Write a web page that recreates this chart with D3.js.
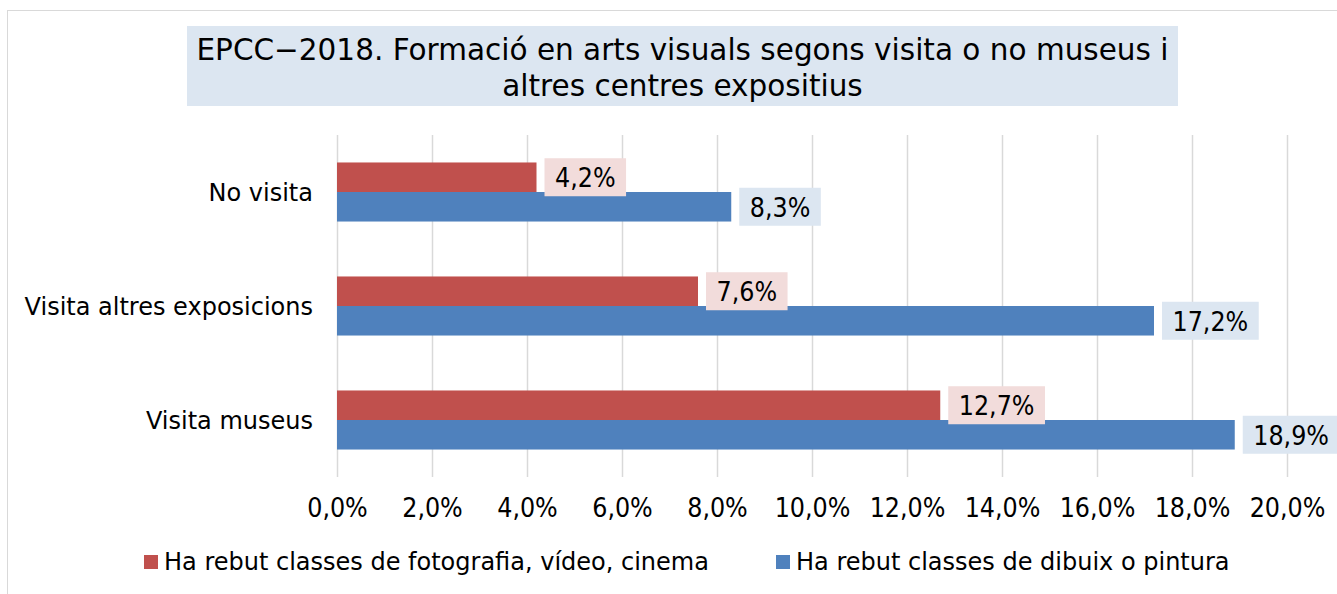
<!DOCTYPE html>
<html>
<head>
<meta charset="utf-8">
<script src="https://cdn.jsdelivr.net/npm/d3@7"></script>
<style>
  body { margin: 0; background: #fff; }
  text { font-family: "DejaVu Sans", Verdana, sans-serif; fill: #000; }
  .num { font-family: "DejaVu Sans Condensed", "DejaVu Sans", sans-serif; font-stretch: condensed; }
</style>
</head>
<body>
<script>
// chart data
var titleLines = ["EPCC\u22122018. Formació en arts visuals segons visita o no museus i", "altres centres expositius"];
var categories = ["No visita", "Visita altres exposicions", "Visita museus"];
var seriesNames = ["Ha rebut classes de fotografia, vídeo, cinema", "Ha rebut classes de dibuix o pintura"];
var fotoValues = [0.042, 0.076, 0.127];   // red
var dibuixValues = [0.083, 0.172, 0.189]; // blue
var tickValues = [0, 0.02, 0.04, 0.06, 0.08, 0.10, 0.12, 0.14, 0.16, 0.18, 0.20];

var barColors = ["#c0504d", "#4f81bd"];
var labelFills = ["#f2dcdb", "#dce6f1"];

var W = 1337, H = 594;
var numSize = 26.5;
var svg = d3.select("body").append("svg").attr("width", W).attr("height", H);

// outer chart border (runs off the right/bottom edge like the original)
svg.append("rect")
  .attr("x", 7.5).attr("y", 10.5)
  .attr("width", W + 20).attr("height", H + 20)
  .attr("fill", "#fff").attr("stroke", "#d9d9d9").attr("stroke-width", 1);

// title
svg.append("rect")
  .attr("x", 187).attr("y", 26).attr("width", 991).attr("height", 80)
  .attr("fill", "#dce6f1");
svg.selectAll("text.title").data(titleLines).enter().append("text")
  .attr("class", "title")
  .attr("x", 682.5)
  .attr("y", function(d, i) { return 60 + i * 35.5; })
  .attr("text-anchor", "middle")
  .style("font-size", "29.5px")
  .text(function(d) { return d; });

// scales
var x = d3.scaleLinear().domain([0, 0.2]).range([337, 1287]);
var y = d3.scaleBand().domain(categories).range([135, 477]).paddingInner(0.482).paddingOuter(0.241);
var ySub = d3.scaleBand().domain([0, 1]).range([0, y.bandwidth()]);

var loc = d3.formatLocale({decimal: ",", thousands: ".", grouping: [3], currency: ["", "€"]});
var pct = loc.format(".1%");

// gridlines
svg.append("g")
  .attr("transform", "translate(0,477)")
  .call(d3.axisBottom(x).tickValues(tickValues).tickSize(-342).tickFormat(""))
  .call(function(g) {
    g.select(".domain").remove();
    g.selectAll("line").attr("stroke", "#d9d9d9").attr("stroke-width", 1.5);
  });

// x tick labels
svg.append("g")
  .attr("transform", "translate(0,477)")
  .call(d3.axisBottom(x).tickValues(tickValues).tickSize(0).tickPadding(0).tickFormat(pct))
  .call(function(g) {
    g.select(".domain").remove();
    g.selectAll("text")
      .attr("class", "num")
      .attr("dy", null)
      .attr("y", 40)
      .style("font-size", numSize + "px")
      .attr("fill", "#000");
  });

// category labels
svg.selectAll("text.cat").data(categories).enter().append("text")
  .attr("class", "cat")
  .attr("x", 313)
  .attr("y", function(d) { return y(d) + y.bandwidth() / 2 + 8.5; })
  .attr("text-anchor", "end")
  .style("font-size", "24px")
  .text(function(d) { return d; });

// bars
var rows = [];
categories.forEach(function(c, i) {
  rows.push({cat: c, s: 0, v: fotoValues[i]});
  rows.push({cat: c, s: 1, v: dibuixValues[i]});
});

svg.selectAll("rect.bar").data(rows).enter().append("rect")
  .attr("class", "bar")
  .attr("x", x(0))
  .attr("y", function(d) { return y(d.cat) + ySub(d.s); })
  .attr("width", function(d) { return x(d.v) - x(0); })
  .attr("height", ySub.bandwidth())
  .attr("fill", function(d) { return barColors[d.s]; });

// data labels with filled boxes
var lab = svg.selectAll("g.lab").data(rows).enter().append("g").attr("class", "lab");
lab.append("rect").attr("fill", function(d) { return labelFills[d.s]; });
lab.append("text")
  .attr("class", "num")
  .attr("text-anchor", "middle")
  .style("font-size", numSize + "px")
  .text(function(d) { return pct(d.v); });
lab.each(function(d) {
  var g = d3.select(this);
  var tw = g.select("text").node().getComputedTextLength();
  var bw = tw + 21, bh = 38;
  var bx = x(d.v) + 8;
  var cy = y(d.cat) + ySub(d.s) + ySub.bandwidth() / 2;
  g.select("rect").attr("x", bx).attr("y", cy - bh / 2).attr("width", bw).attr("height", bh);
  g.select("text").attr("x", bx + bw / 2).attr("y", cy + 9.8);
});

// legend
var legX = [144, 776];
var leg = svg.selectAll("g.leg").data(seriesNames).enter().append("g").attr("class", "leg");
leg.append("rect")
  .attr("x", function(d, i) { return legX[i]; })
  .attr("y", 555).attr("width", 14).attr("height", 14)
  .attr("fill", function(d, i) { return barColors[i]; });
leg.append("text")
  .attr("x", function(d, i) { return legX[i] + 20; })
  .attr("y", 570)
  .style("font-size", "24px")
  .text(function(d) { return d; });
</script>
</body>
</html>
